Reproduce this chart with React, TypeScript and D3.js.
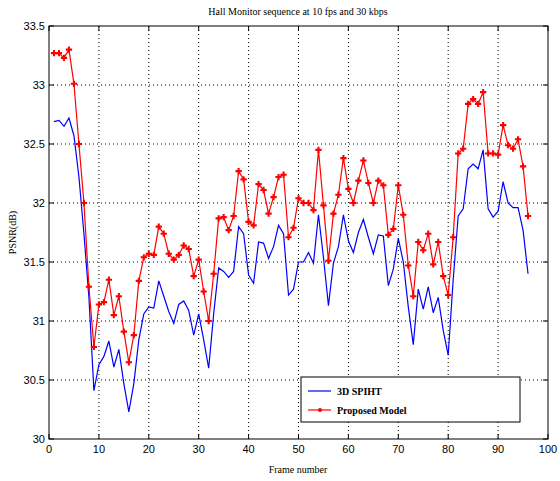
import * as d3 from "d3";
import React from "react";

// frame numbers 1..96
const frames: number[] = [
  1, 2, 3, 4, 5, 6, 7, 8, 9, 10, 11, 12, 13, 14, 15, 16, 17, 18, 19, 20,
  21, 22, 23, 24, 25, 26, 27, 28, 29, 30, 31, 32, 33, 34, 35, 36, 37, 38, 39, 40,
  41, 42, 43, 44, 45, 46, 47, 48, 49, 50, 51, 52, 53, 54, 55, 56, 57, 58, 59, 60,
  61, 62, 63, 64, 65, 66, 67, 68, 69, 70, 71, 72, 73, 74, 75, 76, 77, 78, 79, 80,
  81, 82, 83, 84, 85, 86, 87, 88, 89, 90, 91, 92, 93, 94, 95, 96,
];

const spiht: number[] = [
  32.69, 32.7, 32.65, 32.72, 32.57, 32.22, 31.74, 31.2, 30.41, 30.63,
  30.7, 30.83, 30.61, 30.76, 30.47, 30.23, 30.47, 30.84, 31.06, 31.12,
  31.11, 31.34, 31.21, 31.08, 30.98, 31.14, 31.17, 31.09, 30.88, 31.06,
  30.84, 30.6, 31.06, 31.45, 31.42, 31.37, 31.42, 31.8, 31.74, 31.39,
  31.32, 31.67, 31.66, 31.53, 31.63, 31.81, 31.74, 31.22, 31.27, 31.5,
  31.5, 31.58, 31.49, 31.9, 31.54, 31.13, 31.49, 31.63, 31.9, 31.68,
  31.58, 31.75, 31.86, 31.71, 31.57, 31.73, 31.72, 31.3, 31.44, 31.7,
  31.5, 31.12, 30.8, 31.27, 31.1, 31.29, 31.07, 31.2, 30.92, 30.71,
  31.35, 31.89, 31.95, 32.29, 32.33, 32.29, 32.45, 31.95, 31.88, 31.93,
  32.18, 32.0, 31.96, 31.96, 31.77, 31.4,
];

const proposed: number[] = [
  33.27, 33.27, 33.23, 33.3, 33.01, 32.5, 32.0, 31.29, 30.78, 31.14,
  31.16, 31.35, 31.05, 31.21, 30.91, 30.65, 30.88, 31.34, 31.54, 31.57,
  31.56, 31.8, 31.74, 31.57, 31.52, 31.56, 31.64, 31.61, 31.38, 31.52,
  31.25, 31.0, 31.4, 31.87, 31.88, 31.77, 31.89, 32.27, 32.2, 31.84,
  31.81, 32.16, 32.11, 31.91, 32.05, 32.22, 32.24, 31.71, 31.79, 32.04,
  32.0, 32.0, 31.94, 32.45, 31.98, 31.51, 31.91, 32.07, 32.38, 32.12,
  32.0, 32.19, 32.36, 32.17, 32.0, 32.19, 32.15, 31.73, 31.78, 32.15,
  31.9, 31.47, 31.21, 31.67, 31.6, 31.74, 31.48, 31.67, 31.38, 31.22,
  31.71, 32.42, 32.46, 32.84, 32.88, 32.84, 32.94, 32.42, 32.42, 32.41,
  32.66, 32.49, 32.46, 32.54, 32.31, 31.89,
];

const xTicks: number[] = [0, 10, 20, 30, 40, 50, 60, 70, 80, 90, 100];
const yTicks: number[] = [30, 30.5, 31, 31.5, 32, 32.5, 33, 33.5];
const seriesNames: string[] = ["3D SPIHT", "Proposed Model"];

export default function App() {
  const width = 560;
  const height = 481;
  const left = 49, right = 548, top = 26, bottom = 439;

  const x = d3.scaleLinear().domain([0, 100]).range([left, right]);
  const y = d3.scaleLinear().domain([30, 33.5]).range([bottom, top]);

  const line = d3
    .line<number>()
    .x((_, i) => x(frames[i]))
    .y((d) => y(d));

  const marker = d3.symbol().type(d3.symbolCross).size(22)();
  const tick = 5;
  const serif = "'Liberation Serif', 'DejaVu Serif', serif";
  const sans = "'Liberation Sans', Arial, sans-serif";

  return (
    <svg
      width={width}
      height={height}
      style={{ position: "absolute", left: 0, top: 0, background: "#fff" }}
    >
      <text x={298} y={15} textAnchor="middle" fontFamily={serif} fontSize={10}>
        Hall Monitor sequence at 10 fps and 30 kbps
      </text>

      {/* grid */}
      <g stroke="#000" strokeWidth={1} strokeDasharray="1,3">
        {xTicks.slice(1, -1).map((t) => (
          <line key={"gx" + t} x1={x(t)} x2={x(t)} y1={top} y2={bottom} />
        ))}
        {yTicks.slice(1, -1).map((t) => (
          <line key={"gy" + t} x1={left} x2={right} y1={y(t)} y2={y(t)} />
        ))}
      </g>

      {/* ticks on all sides */}
      <g stroke="#000" strokeWidth={1}>
        {xTicks.map((t) => (
          <g key={"tx" + t}>
            <line x1={x(t)} x2={x(t)} y1={bottom} y2={bottom - tick} />
            <line x1={x(t)} x2={x(t)} y1={top} y2={top + tick} />
          </g>
        ))}
        {yTicks.map((t) => (
          <g key={"ty" + t}>
            <line x1={left} x2={left + tick} y1={y(t)} y2={y(t)} />
            <line x1={right} x2={right - tick} y1={y(t)} y2={y(t)} />
          </g>
        ))}
      </g>

      <g fontFamily={sans} fontSize={11} fill="#000">
        {xTicks.map((t) => (
          <text key={"lx" + t} x={x(t)} y={bottom + 14} textAnchor="middle">
            {t}
          </text>
        ))}
        {yTicks.map((t) => (
          <text key={"ly" + t} x={left - 4} y={y(t) + 4} textAnchor="end">
            {t}
          </text>
        ))}
      </g>

      <text x={298} y={473} textAnchor="middle" fontFamily={serif} fontSize={10}>
        Frame number
      </text>
      <text
        transform={`translate(16,${(top + bottom) / 2}) rotate(-90)`}
        textAnchor="middle"
        fontFamily={serif}
        fontSize={10}
      >
        PSNR(dB)
      </text>

      {/* series */}
      <path d={line(spiht) || ""} fill="none" stroke="#0000ff" strokeWidth={1.2} />
      <path d={line(proposed) || ""} fill="none" stroke="#ff0000" strokeWidth={1.2} />
      {proposed.map((d, i) => (
        <path
          key={"m" + i}
          d={marker || ""}
          transform={`translate(${x(frames[i])},${y(d)})`}
          fill="#ff0000"
        />
      ))}

      {/* legend */}
      <g>
        <rect x={301} y={377} width={219} height={45} fill="#fff" stroke="#000" strokeWidth={1} />
        <line x1={308} x2={331} y1={391} y2={391} stroke="#0000ff" strokeWidth={1.2} />
        <line x1={308} x2={331} y1={410} y2={410} stroke="#ff0000" strokeWidth={1.2} />
        <circle cx={320} cy={410} r={2} fill="#ff0000" />
        <g fontFamily={serif} fontSize={10} fontWeight="bold">
          <text x={337} y={395}>{seriesNames[0]}</text>
          <text x={337} y={414}>{seriesNames[1]}</text>
        </g>
      </g>

      {/* frame */}
      <rect x={left} y={top} width={right - left} height={bottom - top} fill="none" stroke="#000" strokeWidth={1} />
    </svg>
  );
}
